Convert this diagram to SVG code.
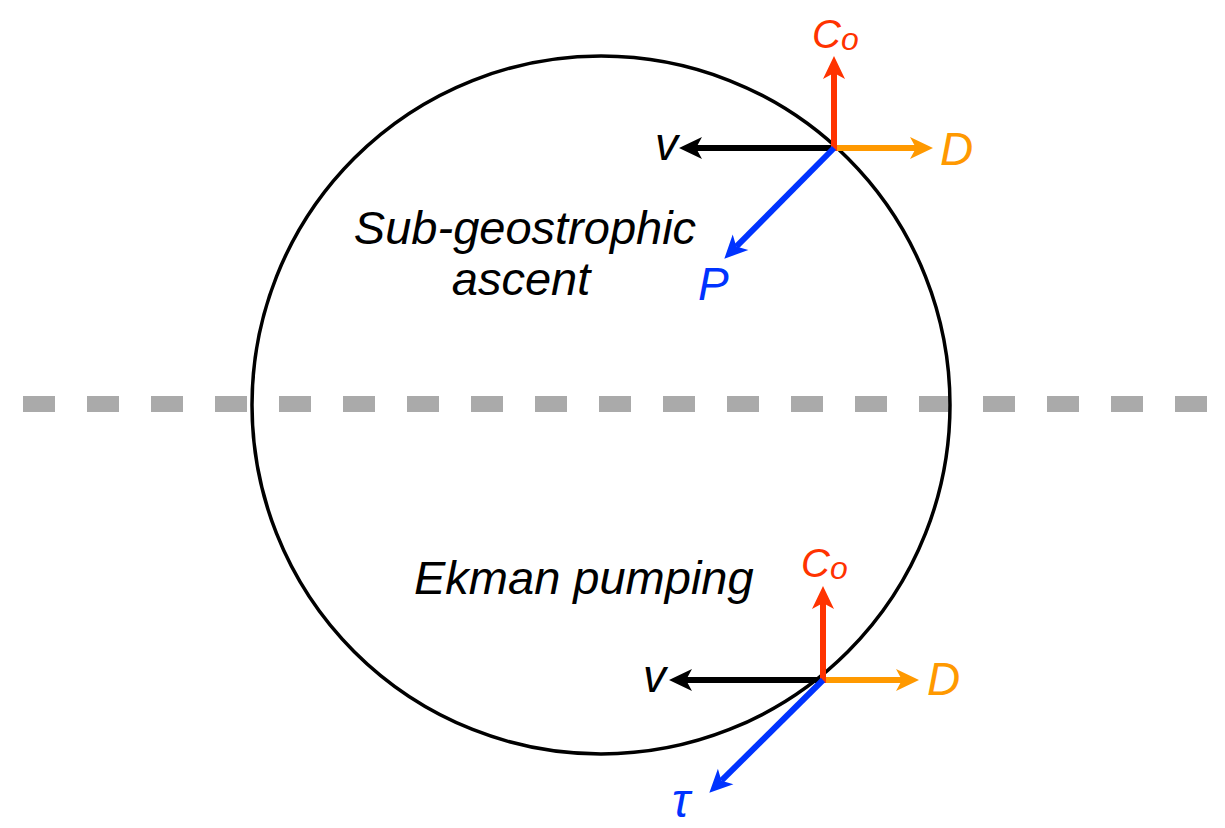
<svg xmlns="http://www.w3.org/2000/svg" width="1225" height="828" viewBox="0 0 1225 828">
<style>
.lbl{font-family:"Liberation Sans",Arial,sans-serif;font-style:italic}
.big{font-size:46px}
.txt{font-size:47px;fill:#000}
.vec{stroke-width:6;fill:none}
</style>
<defs>
<marker id="hK" markerUnits="userSpaceOnUse" markerWidth="24" markerHeight="24" refX="6" refY="11" orient="auto" overflow="visible"><path d="M23,11 L0,0 L6,11 L0,22 Z" fill="#000"/></marker>
<marker id="hO" markerUnits="userSpaceOnUse" markerWidth="24" markerHeight="24" refX="6" refY="11" orient="auto" overflow="visible"><path d="M23,11 L0,0 L6,11 L0,22 Z" fill="#FF9900"/></marker>
<marker id="hR" markerUnits="userSpaceOnUse" markerWidth="24" markerHeight="24" refX="6" refY="11" orient="auto" overflow="visible"><path d="M23,11 L0,0 L6,11 L0,22 Z" fill="#FF3300"/></marker>
<marker id="hB" markerUnits="userSpaceOnUse" markerWidth="24" markerHeight="24" refX="6" refY="11" orient="auto" overflow="visible"><path d="M23,11 L0,0 L6,11 L0,22 Z" fill="#0033FF"/></marker>
</defs>
<rect width="1225" height="828" fill="#fff"/>
<line id="divider" x1="23" y1="404" x2="1212" y2="404" stroke="#AAAAAA" stroke-width="16" stroke-dasharray="32 32"/>
<g id="circle"><circle cx="601" cy="405" r="349" fill="none" stroke="#000" stroke-width="3.5"/></g>
<g id="connectors">
<line class="vec" x1="834" y1="148" x2="696" y2="148" stroke="#000" marker-end="url(#hK)"/>
<line class="vec" x1="834" y1="148" x2="916" y2="148" stroke="#FF9900" marker-end="url(#hO)"/>
<line class="vec" x1="834" y1="151" x2="834" y2="73" stroke="#FF3300" marker-end="url(#hR)"/>
<line class="vec" x1="834" y1="148" x2="736.3" y2="246.6" stroke="#0033FF" marker-end="url(#hB)"/>
<line class="vec" x1="823" y1="680" x2="686" y2="680" stroke="#000" marker-end="url(#hK)"/>
<line class="vec" x1="823" y1="680" x2="902" y2="680" stroke="#FF9900" marker-end="url(#hO)"/>
<line class="vec" x1="823" y1="683" x2="823" y2="603" stroke="#FF3300" marker-end="url(#hR)"/>
<line class="vec" x1="823" y1="680" x2="721.4" y2="780.7" stroke="#0033FF" marker-end="url(#hB)"/>
</g>
<g id="upper-labels">
<text class="lbl" x="812" y="48" fill="#FF3300" font-size="40">C<tspan font-size="32" dy="2">o</tspan></text>
<text class="lbl big" x="655" y="160" fill="#000">v</text>
<text class="lbl big" x="940" y="165" fill="#FF9900">D</text>
<text class="lbl big" x="698" y="300" fill="#0033FF">P</text>
<text class="lbl txt" x="525" y="244" text-anchor="middle">Sub-geostrophic</text>
<text class="lbl txt" x="521" y="295" text-anchor="middle">ascent</text>
</g>
<g id="lower-labels">
<text class="lbl txt" x="414" y="594">Ekman pumping</text>
<text class="lbl" x="801" y="577" fill="#FF3300" font-size="40">C<tspan font-size="32" dy="2">o</tspan></text>
<text class="lbl big" x="643" y="692" fill="#000">v</text>
<text class="lbl big" x="927" y="695" fill="#FF9900">D</text>
<text class="lbl" x="672" y="817" fill="#0033FF" font-size="48">τ</text>
</g>
</svg>
